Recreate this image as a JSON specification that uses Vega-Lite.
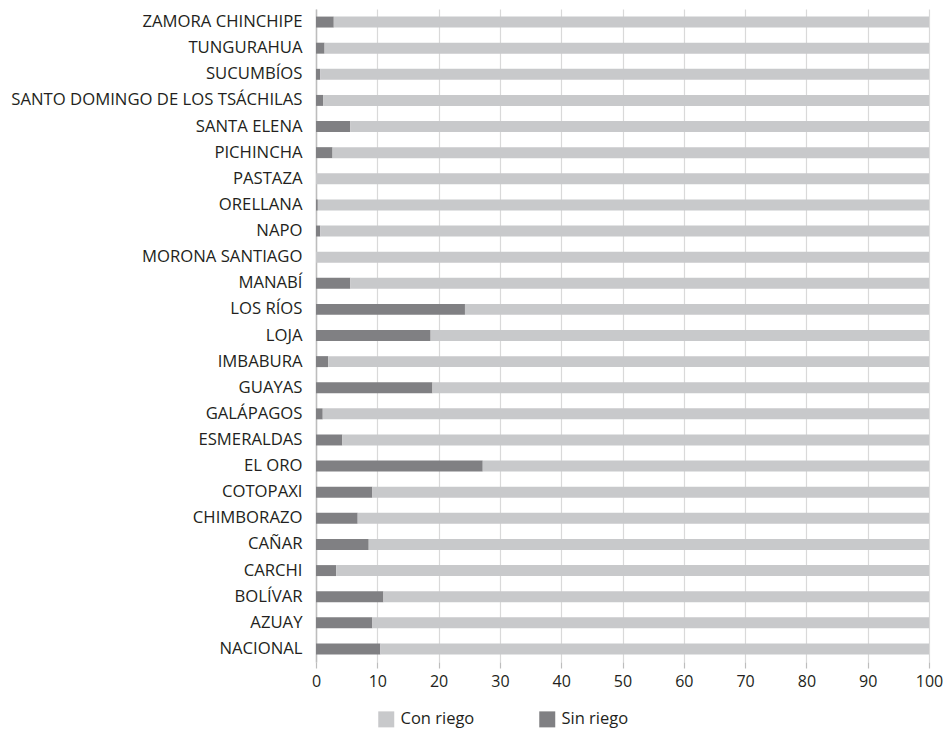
{
  "$schema": "https://vega.github.io/schema/vega-lite/v6.json",
  "width": 613,
  "height": 653,
  "autosize": {"type": "none"},
  "padding": {"left": 316, "top": 9, "right": 15, "bottom": 68},
  "background": "white",
  "config": {"view": {"stroke": null}, "font": "Open Sans"},
  "datasets": {
    "rows": [
      {"p": "ZAMORA CHINCHIPE", "t": "Sin riego", "v": 2.9}, {"p": "ZAMORA CHINCHIPE", "t": "Con riego", "v": 97.1},
      {"p": "TUNGURAHUA", "t": "Sin riego", "v": 1.4}, {"p": "TUNGURAHUA", "t": "Con riego", "v": 98.6},
      {"p": "SUCUMBÍOS", "t": "Sin riego", "v": 0.7}, {"p": "SUCUMBÍOS", "t": "Con riego", "v": 99.3},
      {"p": "SANTO DOMINGO DE LOS TSÁCHILAS", "t": "Sin riego", "v": 1.2}, {"p": "SANTO DOMINGO DE LOS TSÁCHILAS", "t": "Con riego", "v": 98.8},
      {"p": "SANTA ELENA", "t": "Sin riego", "v": 5.6}, {"p": "SANTA ELENA", "t": "Con riego", "v": 94.4},
      {"p": "PICHINCHA", "t": "Sin riego", "v": 2.7}, {"p": "PICHINCHA", "t": "Con riego", "v": 97.3},
      {"p": "PASTAZA", "t": "Sin riego", "v": 0.0}, {"p": "PASTAZA", "t": "Con riego", "v": 100.0},
      {"p": "ORELLANA", "t": "Sin riego", "v": 0.3}, {"p": "ORELLANA", "t": "Con riego", "v": 99.7},
      {"p": "NAPO", "t": "Sin riego", "v": 0.7}, {"p": "NAPO", "t": "Con riego", "v": 99.3},
      {"p": "MORONA SANTIAGO", "t": "Sin riego", "v": 0.0}, {"p": "MORONA SANTIAGO", "t": "Con riego", "v": 100.0},
      {"p": "MANABÍ", "t": "Sin riego", "v": 5.6}, {"p": "MANABÍ", "t": "Con riego", "v": 94.4},
      {"p": "LOS RÍOS", "t": "Sin riego", "v": 24.3}, {"p": "LOS RÍOS", "t": "Con riego", "v": 75.7},
      {"p": "LOJA", "t": "Sin riego", "v": 18.7}, {"p": "LOJA", "t": "Con riego", "v": 81.3},
      {"p": "IMBABURA", "t": "Sin riego", "v": 2.0}, {"p": "IMBABURA", "t": "Con riego", "v": 98.0},
      {"p": "GUAYAS", "t": "Sin riego", "v": 19.0}, {"p": "GUAYAS", "t": "Con riego", "v": 81.0},
      {"p": "GALÁPAGOS", "t": "Sin riego", "v": 1.1}, {"p": "GALÁPAGOS", "t": "Con riego", "v": 98.9},
      {"p": "ESMERALDAS", "t": "Sin riego", "v": 4.3}, {"p": "ESMERALDAS", "t": "Con riego", "v": 95.7},
      {"p": "EL ORO", "t": "Sin riego", "v": 27.2}, {"p": "EL ORO", "t": "Con riego", "v": 72.8},
      {"p": "COTOPAXI", "t": "Sin riego", "v": 9.2}, {"p": "COTOPAXI", "t": "Con riego", "v": 90.8},
      {"p": "CHIMBORAZO", "t": "Sin riego", "v": 6.8}, {"p": "CHIMBORAZO", "t": "Con riego", "v": 93.2},
      {"p": "CAÑAR", "t": "Sin riego", "v": 8.6}, {"p": "CAÑAR", "t": "Con riego", "v": 91.4},
      {"p": "CARCHI", "t": "Sin riego", "v": 3.3}, {"p": "CARCHI", "t": "Con riego", "v": 96.7},
      {"p": "BOLÍVAR", "t": "Sin riego", "v": 11.0}, {"p": "BOLÍVAR", "t": "Con riego", "v": 89.0},
      {"p": "AZUAY", "t": "Sin riego", "v": 9.2}, {"p": "AZUAY", "t": "Con riego", "v": 90.8},
      {"p": "NACIONAL", "t": "Sin riego", "v": 10.5}, {"p": "NACIONAL", "t": "Con riego", "v": 89.5}
    ]
  },
  "data": {"name": "rows"},
  "mark": {"type": "bar"},
  "encoding": {
    "y": {
      "field": "p", "type": "nominal", "sort": null,
      "scale": {"paddingInner": 0.58, "paddingOuter": 0.29},
      "axis": {"title": null, "ticks": false, "domain": true, "domainColor": "#bdbdbd", "domainWidth": 1.5,
               "labelFontSize": 16.7, "labelColor": "#231f20", "labelPadding": 14, "labelLimit": 330, "grid": false}
    },
    "x": {
      "field": "v", "type": "quantitative", "stack": "zero",
      "scale": {"domain": [0, 100], "nice": false},
      "axis": {"title": null, "values": [0,10,20,30,40,50,60,70,80,90,100], "domain": false,
               "grid": true, "gridColor": "#d9d9d9", "gridWidth": 1.2,
               "ticks": true, "tickColor": "#bdbdbd", "tickSize": 6, "tickWidth": 1.2,
               "labelFontSize": 16, "labelColor": "#231f20", "labelPadding": 5, "labelFlush": false}
    },
    "color": {
      "field": "t", "type": "nominal",
      "scale": {"domain": ["Con riego", "Sin riego"], "range": ["#c8c9cb", "#808083"]},
      "legend": {"title": null, "orient": "none", "legendX": 62, "legendY": 702, "direction": "horizontal",
                 "symbolType": "square", "symbolSize": 256, "symbolStrokeWidth": 0,
                 "labelFontSize": 16.5, "labelColor": "#231f20", "columnPadding": 64, "labelOffset": 6}
    },
    "order": {"field": "t", "sort": "descending"}
  }
}
